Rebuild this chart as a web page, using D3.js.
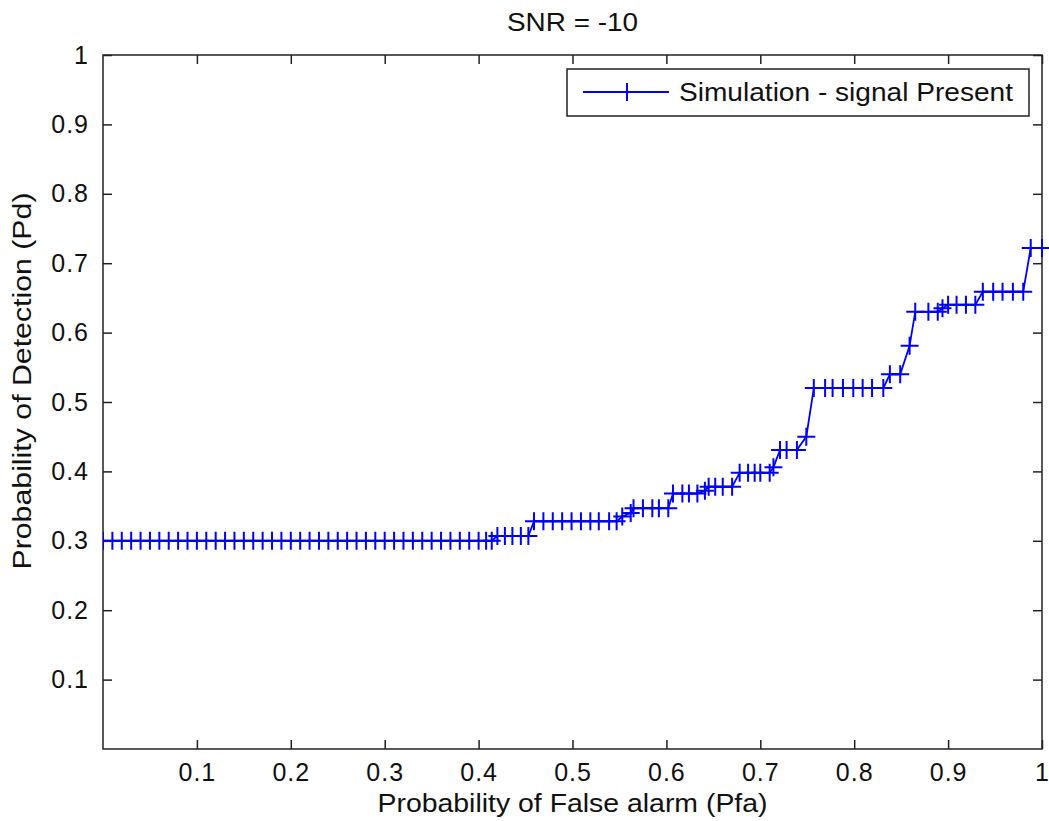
<!DOCTYPE html>
<html>
<head>
<meta charset="utf-8">
<script src="https://cdn.jsdelivr.net/npm/d3@7"></script>
<style>
  body { margin: 0; background: #fff; }
  text { font-family: "Liberation Sans", Arial, Helvetica, sans-serif; fill: #111; }
</style>
</head>
<body>
<div id="chart"></div>
<script>
// ROC samples
var pfa = [0.00, 0.01, 0.02, 0.03, 0.04, 0.05, 0.06, 0.07, 0.08, 0.09,
           0.10, 0.11, 0.12, 0.13, 0.14, 0.15, 0.16, 0.17, 0.18, 0.19,
           0.20, 0.21, 0.22, 0.23, 0.24, 0.25, 0.26, 0.27, 0.28, 0.29,
           0.30, 0.31, 0.32, 0.33, 0.34, 0.35, 0.36, 0.37, 0.38, 0.39,
           0.40, 0.408, 0.414, 0.420, 0.428, 0.436, 0.445, 0.453,
           0.459, 0.469, 0.479, 0.489, 0.499, 0.509, 0.519, 0.528, 0.539, 0.547,
           0.553, 0.562, 0.565, 0.575, 0.585, 0.592, 0.602,
           0.607, 0.617, 0.624, 0.633, 0.641, 0.645, 0.652, 0.660, 0.670,
           0.678, 0.687, 0.694, 0.700, 0.710, 0.714,
           0.721, 0.728, 0.739, 0.749,
           0.757, 0.769, 0.777, 0.788, 0.799, 0.809, 0.819, 0.831,
           0.838, 0.849, 0.859,
           0.865, 0.879, 0.889, 0.894,
           0.900, 0.909, 0.919, 0.929,
           0.937, 0.948, 0.958, 0.969, 0.980,
           0.988, 1.000];
var pd = [0.300, 0.300, 0.300, 0.300, 0.300, 0.300, 0.300, 0.300, 0.300, 0.300,
          0.300, 0.300, 0.300, 0.300, 0.300, 0.300, 0.300, 0.300, 0.300, 0.300,
          0.300, 0.300, 0.300, 0.300, 0.300, 0.300, 0.300, 0.300, 0.300, 0.300,
          0.300, 0.300, 0.300, 0.300, 0.300, 0.300, 0.300, 0.300, 0.300, 0.300,
          0.300, 0.300, 0.300, 0.307, 0.307, 0.307, 0.307, 0.307,
          0.328, 0.328, 0.328, 0.328, 0.328, 0.328, 0.328, 0.328, 0.328, 0.328,
          0.335, 0.340, 0.347, 0.347, 0.347, 0.347, 0.347,
          0.368, 0.368, 0.368, 0.368, 0.372, 0.378, 0.378, 0.378, 0.378,
          0.398, 0.398, 0.398, 0.398, 0.398, 0.406,
          0.431, 0.431, 0.431, 0.450,
          0.520, 0.520, 0.520, 0.520, 0.520, 0.520, 0.520, 0.520,
          0.540, 0.540, 0.581,
          0.630, 0.630, 0.630, 0.635,
          0.640, 0.640, 0.640, 0.640,
          0.659, 0.659, 0.659, 0.659, 0.659,
          0.722, 0.722];

var xTicks = [0.1, 0.2, 0.3, 0.4, 0.5, 0.6, 0.7, 0.8, 0.9, 1];
var yTicks = [0.1, 0.2, 0.3, 0.4, 0.5, 0.6, 0.7, 0.8, 0.9, 1];
var seriesName = "Simulation - signal Present";

var W = 1049, H = 821;
var plotL = 103, plotR = 1042, plotT = 55, plotB = 749;

var x = d3.scaleLinear().domain([0, 1]).range([plotL, plotR]);
var y = d3.scaleLinear().domain([0, 1]).range([plotB, plotT]);

var svg = d3.select("#chart").append("svg")
    .attr("width", W)
    .attr("height", H);

// the left edge hides the marker at pfa = 0, the right edge does not
svg.append("clipPath").attr("id", "leftclip")
    .append("rect")
    .attr("x", plotL).attr("y", 0)
    .attr("width", W - plotL).attr("height", H);

var fmt = function(d) { return d === 1 ? "1" : d3.format(".1f")(d); };

// axes with inward ticks on all four sides
function styleAxis(g) {
    g.select(".domain").remove();
    g.selectAll(".tick line").attr("stroke", "#222").attr("stroke-width", 1.5);
}

svg.append("g")
    .attr("transform", "translate(0," + plotB + ")")
    .call(d3.axisBottom(x).tickValues(xTicks).tickSize(-9).tickPadding(14).tickFormat(fmt))
    .call(styleAxis)
    .selectAll("text")
    .attr("font-size", "25px")
    .attr("letter-spacing", "1px")
    .attr("dy", "0.71em");

svg.append("g")
    .attr("transform", "translate(0," + plotT + ")")
    .call(d3.axisTop(x).tickValues(xTicks).tickSize(-9).tickFormat(""))
    .call(styleAxis);

svg.append("g")
    .attr("transform", "translate(" + plotL + ",0)")
    .call(d3.axisLeft(y).tickValues(yTicks).tickSize(-9).tickPadding(14).tickFormat(fmt))
    .call(styleAxis)
    .selectAll("text")
    .attr("font-size", "25px")
    .attr("letter-spacing", "1px");

svg.append("g")
    .attr("transform", "translate(" + plotR + ",0)")
    .call(d3.axisRight(y).tickValues(yTicks).tickSize(-9).tickFormat(""))
    .call(styleAxis);

svg.append("rect")
    .attr("x", plotL).attr("y", plotT)
    .attr("width", plotR - plotL).attr("height", plotB - plotT)
    .attr("fill", "none")
    .attr("stroke", "#222")
    .attr("stroke-width", 1.5);

// series
var pts = pfa.map(function(d, i) { return [d, pd[i]]; });

var line = d3.line()
    .x(function(d) { return x(d[0]); })
    .y(function(d) { return y(d[1]); });

var series = svg.append("g").attr("clip-path", "url(#leftclip)");

series.append("path")
    .datum(pts)
    .attr("d", line)
    .attr("fill", "none")
    .attr("stroke", "#0000ff")
    .attr("stroke-width", 1.8);

var plus = "M-9,0H9M0,-9V9";

series.selectAll("path.mark")
    .data(pts)
    .enter().append("path")
    .attr("class", "mark")
    .attr("d", plus)
    .attr("transform", function(d) { return "translate(" + x(d[0]) + "," + y(d[1]) + ")"; })
    .attr("fill", "none")
    .attr("stroke", "#0000ff")
    .attr("stroke-width", 2);

// titles
svg.append("text")
    .attr("x", (plotL + plotR) / 2)
    .attr("y", 31)
    .attr("text-anchor", "middle")
    .attr("font-size", "25px")
    .attr("textLength", 131)
    .attr("lengthAdjust", "spacingAndGlyphs")
    .text("SNR = -10");

svg.append("text")
    .attr("x", (plotL + plotR) / 2)
    .attr("y", 812)
    .attr("text-anchor", "middle")
    .attr("font-size", "25px")
    .attr("textLength", 390)
    .attr("lengthAdjust", "spacingAndGlyphs")
    .text("Probability of False alarm (Pfa)");

svg.append("text")
    .attr("transform", "translate(31,381)rotate(-90)")
    .attr("text-anchor", "middle")
    .attr("font-size", "25px")
    .attr("textLength", 377)
    .attr("lengthAdjust", "spacingAndGlyphs")
    .text("Probability of Detection (Pd)");

// legend
var lg = svg.append("g");
lg.append("rect")
    .attr("x", 567).attr("y", 69)
    .attr("width", 462).attr("height", 47)
    .attr("fill", "#fff")
    .attr("stroke", "#222")
    .attr("stroke-width", 1.5);
lg.append("line")
    .attr("x1", 583).attr("x2", 669)
    .attr("y1", 92).attr("y2", 92)
    .attr("stroke", "#0000ff")
    .attr("stroke-width", 1.8);
lg.append("path")
    .attr("d", plus)
    .attr("transform", "translate(627,92)")
    .attr("stroke", "#0000ff")
    .attr("stroke-width", 2);
lg.append("text")
    .attr("x", 679)
    .attr("y", 101)
    .attr("font-size", "25px")
    .attr("textLength", 334)
    .attr("lengthAdjust", "spacingAndGlyphs")
    .text(seriesName);
</script>
</body>
</html>
